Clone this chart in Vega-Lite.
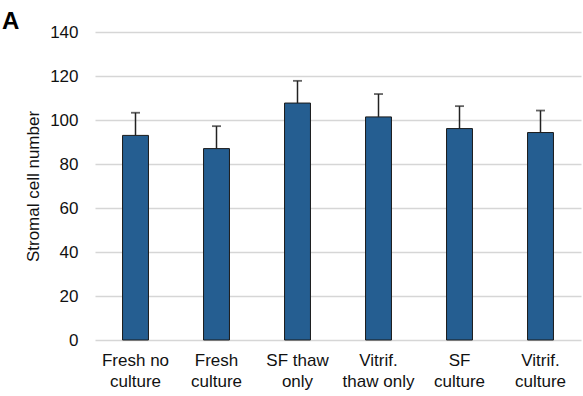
{
  "$schema": "https://vega.github.io/schema/vega-lite/v6.json",
  "autosize": "none",
  "width": 486,
  "height": 308,
  "padding": {"left": 95, "top": 32, "right": 2, "bottom": 56},
  "background": "white",
  "title": {
    "text": "A",
    "anchor": "start",
    "frame": "group",
    "dx": -93,
    "dy": 30,
    "offset": 0,
    "baseline": "alphabetic",
    "fontSize": 24,
    "fontWeight": "bold",
    "font": "Liberation Sans",
    "color": "#000000"
  },
  "config": {
    "view": {"stroke": null},
    "font": "Liberation Sans"
  },
  "data": {
    "values": [
      {"group": "Fresh no\nculture", "mean": 93.0, "err": 10.3},
      {"group": "Fresh\nculture", "mean": 87.0, "err": 10.2},
      {"group": "SF thaw\nonly", "mean": 107.7, "err": 10.1},
      {"group": "Vitrif.\nthaw only", "mean": 101.4, "err": 10.4},
      {"group": "SF\nculture", "mean": 96.1, "err": 10.2},
      {"group": "Vitrif.\nculture", "mean": 94.3, "err": 10.0}
    ]
  },
  "encoding": {
    "x": {
      "field": "group",
      "type": "nominal",
      "sort": null,
      "scale": {"paddingInner": 0.68, "paddingOuter": 0.34},
      "axis": {
        "title": null,
        "labelAngle": 0,
        "labelExpr": "split(datum.label, '\\n')",
        "labelFontSize": 17,
        "labelLineHeight": 21,
        "labelColor": "#111111",
        "labelPadding": 12,
        "labelBaseline": "top",
        "domain": false,
        "ticks": false,
        "tickSize": 0,
        "grid": false
      }
    }
  },
  "layer": [
    {
      "mark": {"type": "bar", "color": "#255E91", "stroke": "#1a1a1a", "strokeWidth": 1, "width": {"band": 1}},
      "encoding": {
        "y": {
          "field": "mean",
          "type": "quantitative",
          "scale": {"domain": [0, 140], "nice": false},
          "axis": {
            "title": "Stromal cell number",
            "titleFontSize": 17,
            "titleFontWeight": "normal",
            "titleColor": "#111111",
            "titleAngle": -90,
            "titleX": -57,
            "titleY": 154,
            "titleAlign": "center",
            "titleBaseline": "alphabetic",
            "values": [0, 20, 40, 60, 80, 100, 120, 140],
            "labelFontSize": 17,
            "labelColor": "#111111",
            "labelPadding": 17,
            "domain": false,
            "ticks": false,
            "tickSize": 0,
            "grid": true,
            "gridColor": "#d6d6d6",
            "gridWidth": 1.5
          }
        }
      }
    },
    {
      "transform": [{"calculate": "datum.mean + datum.err", "as": "upper"}],
      "mark": {"type": "rule", "color": "#222222", "strokeWidth": 1.5},
      "encoding": {
        "y": {"field": "mean", "type": "quantitative"},
        "y2": {"field": "upper"}
      }
    },
    {
      "transform": [{"calculate": "datum.mean + datum.err", "as": "upper"}],
      "mark": {"type": "tick", "color": "#222222", "thickness": 1.8, "size": 9, "orient": "horizontal"},
      "encoding": {
        "y": {"field": "upper", "type": "quantitative"}
      }
    }
  ]
}
